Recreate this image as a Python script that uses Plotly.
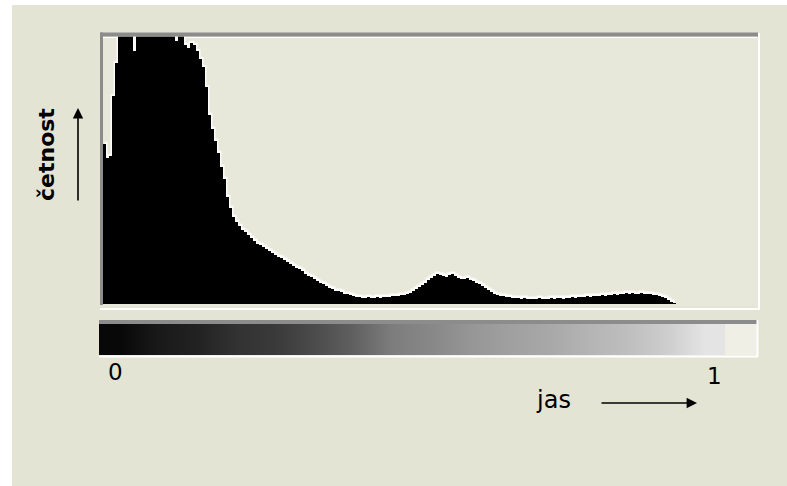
import plotly.graph_objects as go

W, H = 787, 486

# histogram counts per brightness bin (clipped above the panel top)
counts = [161, 147, 149, 209, 242, 280, 300, 312, 305, 298,
          254, 290, 305, 318, 322, 310, 315, 325, 320, 312,
          308, 300, 295, 285, 264, 282, 278, 260, 257, 262,
          260, 254, 246, 238, 218, 190, 176, 164, 152, 138,
          126, 108, 97, 88, 83, 79, 75, 73, 70, 67,
          64, 61, 60, 58, 56, 54, 52, 50, 48, 47,
          45, 43, 41, 39, 37, 36, 34, 31, 29, 28,
          26, 24, 22, 21, 19, 17, 16, 14, 14, 13,
          11, 11, 10, 9, 8, 8, 7, 7, 8, 7,
          7, 8, 7, 8, 8, 8, 9, 9, 9, 10,
          10, 11, 12, 14, 16, 18, 20, 22, 25, 27,
          29, 31, 30, 29, 28, 30, 31, 29, 27, 26,
          26, 27, 25, 24, 22, 21, 19, 17, 15, 13,
          11, 10, 9, 9, 8, 8, 7, 7, 7, 6,
          7, 6, 6, 6, 6, 7, 6, 6, 6, 7,
          6, 7, 7, 6, 7, 7, 8, 7, 8, 8,
          8, 9, 8, 9, 9, 9, 10, 9, 10, 10,
          11, 10, 11, 11, 12, 11, 12, 11, 11, 12,
          11, 11, 11, 10, 10, 9, 8, 7, 5, 3, 1]
bins = [i + 0.5 for i in range(len(counts))]

# brightness scale bar grey levels (0-255)
scale_grays = [8, 25, 34, 50, 58, 75, 96, 125, 136, 150, 160, 168, 180, 190, 205, 228]
scale_pos = [i + 0.5 for i in range(len(scale_grays))]

tick_labels = ["0", "1"]
x_label = "jas"
y_label = "četnost"

def X(p):
    return p / W

def Y(p):
    return 1 - p / H

fig = go.Figure()
# soft white halo along the histogram outline (drawn on the base axes, below the bars)
fig.add_trace(go.Scatter(x=bins, y=counts, mode="lines", line=dict(color="rgba(255,255,255,0.85)",
                         width=3, shape="hvh"), xaxis="x", yaxis="y", hoverinfo="skip", cliponaxis=True))
# the histogram itself on an overlaid pair of axes
fig.add_trace(go.Bar(x=bins, y=counts, width=1.0, marker=dict(color="black", line=dict(width=0)),
                     xaxis="x3", yaxis="y3", hoverinfo="skip"))
fig.add_trace(go.Heatmap(z=[scale_grays], x=scale_pos, y=[0],
                         colorscale=[[0, "black"], [1, "white"]], zmin=0, zmax=255,
                         zsmooth="best", showscale=False, xaxis="x2", yaxis="y2", hoverinfo="skip"))

beige = "#E4E4D4"
panel = "#E8E8DA"
grey = "#8C8C8C"
shapes = [
    dict(type="rect", xref="paper", yref="paper", x0=X(12), x1=1, y0=0, y1=Y(5),
         fillcolor=beige, line_width=0, layer="below"),
    dict(type="rect", xref="paper", yref="paper", x0=X(100), x1=X(759), y0=Y(306), y1=Y(33),
         fillcolor=panel, line_width=0, layer="below"),
    dict(type="rect", xref="paper", yref="paper", x0=X(100), x1=X(758), y0=Y(36.5), y1=Y(32.5),
         fillcolor=grey, line_width=0, layer="above"),
    dict(type="rect", xref="paper", yref="paper", x0=X(100), x1=X(103), y0=Y(305), y1=Y(32.5),
         fillcolor=grey, line_width=0, layer="above"),
    dict(type="line", xref="paper", yref="paper", x0=X(103), x1=X(757), y0=Y(37.5), y1=Y(37.5),
         line=dict(color="white", width=1), layer="below"),
    dict(type="line", xref="paper", yref="paper", x0=X(759), x1=X(759), y0=Y(310), y1=Y(33),
         line=dict(color="white", width=2), layer="above"),
    dict(type="line", xref="paper", yref="paper", x0=X(100), x1=X(760), y0=Y(309), y1=Y(309),
         line=dict(color="white", width=2), layer="above"),
    dict(type="rect", xref="paper", yref="paper", x0=X(725), x1=X(757), y0=Y(355), y1=Y(324),
         fillcolor="#EFEFE6", line_width=0, layer="below"),
    dict(type="rect", xref="paper", yref="paper", x0=X(99), x1=X(758), y0=Y(324), y1=Y(320),
         fillcolor=grey, line_width=0, layer="above"),
    dict(type="line", xref="paper", yref="paper", x0=X(99), x1=X(758), y0=Y(356.5), y1=Y(356.5),
         line=dict(color="white", width=2), layer="above"),
    dict(type="line", xref="paper", yref="paper", x0=X(757.5), x1=X(757.5), y0=Y(357), y1=Y(320),
         line=dict(color="white", width=2), layer="above"),
]

annotations = [
    dict(xref="paper", yref="paper", x=X(115), y=Y(372), text=tick_labels[0], showarrow=False,
         font=dict(family="DejaVu Sans", size=23, color="black"), xanchor="center", yanchor="middle"),
    dict(xref="paper", yref="paper", x=X(714), y=Y(376), text=tick_labels[1], showarrow=False,
         font=dict(family="DejaVu Sans", size=23, color="black"), xanchor="center", yanchor="middle"),
    dict(xref="paper", yref="paper", x=X(553), y=Y(400), text=x_label, showarrow=False,
         font=dict(family="DejaVu Sans", size=24, color="black"), xanchor="center", yanchor="middle"),
    dict(xref="paper", yref="paper", x=X(47), y=Y(155), text="<b>" + y_label + "</b>", showarrow=False,
         textangle=-90, font=dict(family="DejaVu Sans", size=22, color="black"),
         xanchor="center", yanchor="middle"),
    dict(xref="paper", yref="paper", x=X(697), y=Y(403), text="", showarrow=True, ax=-97, ay=0,
         arrowhead=2, arrowsize=1.3, arrowwidth=1.6, arrowcolor="black"),
    dict(xref="paper", yref="paper", x=X(78), y=Y(108), text="", showarrow=True, ax=0, ay=94,
         arrowhead=2, arrowsize=1.3, arrowwidth=1.6, arrowcolor="black"),
]

fig.update_layout(
    width=W, height=H, margin=dict(l=0, r=0, t=0, b=0),
    paper_bgcolor="white", plot_bgcolor="rgba(0,0,0,0)",
    showlegend=False, bargap=0,
    xaxis=dict(domain=[X(103), X(757)], range=[0, 218], visible=False, fixedrange=True),
    yaxis=dict(domain=[Y(304), Y(36.5)], range=[0, 268], visible=False, fixedrange=True),
    xaxis3=dict(overlaying="x", range=[0, 218], visible=False, fixedrange=True, anchor="y3"),
    yaxis3=dict(overlaying="y", range=[0, 268], visible=False, fixedrange=True, anchor="x3"),
    xaxis2=dict(domain=[X(99), X(725)], range=[0, 16], visible=False, anchor="y2"),
    yaxis2=dict(domain=[Y(355), Y(324)], range=[-0.5, 0.5], visible=False, anchor="x2"),
    shapes=shapes, annotations=annotations,
)

fig.write_html("out.html", config={"displayModeBar": False},
               post_script="document.body.style.margin='0';document.body.style.overflow='hidden';")
